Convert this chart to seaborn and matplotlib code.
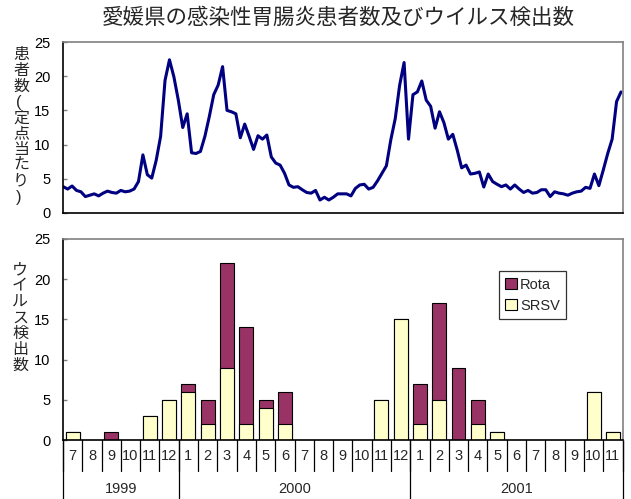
import matplotlib
matplotlib.use("Agg")
import matplotlib.pyplot as plt
import matplotlib.transforms as mtransforms
from matplotlib.patches import Patch
import seaborn as sns
import numpy as np

# ---------------- data ----------------
title = "愛媛県の感染性胃腸炎患者数及びウイルス検出数"
top_ylabel = "患者数(定点当たり)"
bottom_ylabel = "ウイルス検出数"

# weekly patients per sentinel (Jul 1999 - Nov 2001)
patients = [3.85, 3.5, 3.95, 3.3, 3.1, 2.4, 2.6, 2.8, 2.5, 2.9,
            3.2, 3.0, 2.9, 3.3, 3.1, 3.2, 3.5, 4.6, 8.5, 5.6,
            5.1, 7.7, 11.2, 19.4, 22.4, 19.9, 16.5, 12.5, 14.5, 8.8,
            8.7, 9.0, 11.2, 14.1, 17.3, 18.7, 21.4, 15.0, 14.8, 14.5,
            11.0, 13.0, 11.2, 9.3, 11.3, 10.8, 11.4, 8.2, 7.3, 7.0,
            5.8, 4.1, 3.75, 3.85, 3.4, 3.0, 2.9, 3.3, 1.9, 2.3,
            1.9, 2.3, 2.8, 2.8, 2.8, 2.5, 3.6, 4.1, 4.2, 3.5,
            3.75, 4.7, 5.8, 6.9, 10.7, 13.8, 18.7, 22.0, 10.8, 17.3,
            17.7, 19.3, 16.5, 15.6, 12.4, 14.8, 13.2, 10.8, 11.5, 9.2,
            6.6, 7.0, 5.7, 5.8, 6.0, 3.8, 5.7, 4.6, 4.2, 3.85,
            4.1, 3.5, 4.1, 3.5, 3.0, 3.3, 2.9, 3.0, 3.4, 3.4,
            2.4, 3.1, 2.9, 2.8, 2.6, 2.9, 3.1, 3.2, 3.75, 3.6,
            5.7, 4.0, 6.3, 8.7, 10.8, 16.3, 17.7]

months = [7, 8, 9, 10, 11, 12,
          1, 2, 3, 4, 5, 6, 7, 8, 9, 10, 11, 12,
          1, 2, 3, 4, 5, 6, 7, 8, 9, 10, 11]
years = ["1999", "2000", "2001"]
year_month_counts = [6, 12, 11]

srsv = [1, 0, 0, 0, 3, 5,
        6, 2, 9, 2, 4, 2, 0, 0, 0, 0, 5, 15,
        2, 5, 0, 2, 1, 0, 0, 0, 0, 6, 1]
rota = [0, 0, 1, 0, 0, 0,
        1, 3, 13, 12, 1, 4, 0, 0, 0, 0, 0, 0,
        5, 12, 9, 3, 0, 0, 0, 0, 0, 0, 0]
series_names = ["Rota", "SRSV"]

# ---------------- style ----------------
sns.set_style("white")
plt.rcParams["font.family"] = ["Liberation Sans", "Noto Sans CJK JP", "DejaVu Sans"]
jp = ["Noto Sans CJK JP", "DejaVu Sans"]

line_color = "#000080"
rota_color = "#993366"
srsv_color = "#FFFFCC"
W, H = 631, 499

fig = plt.figure(figsize=(W / 100, H / 100), dpi=100)

def ax_rect(l, t, r, b):
    return [l / W, 1 - b / H, (r - l) / W, (b - t) / H]

ax1 = fig.add_axes(ax_rect(63, 42, 623, 213))
ax2 = fig.add_axes(ax_rect(63, 239, 622.5, 440))

# ---------------- top: line ----------------
wk = np.arange(len(patients))
sns.lineplot(x=wk, y=patients, ax=ax1, color=line_color, linewidth=2.2)
ax1.set_xlim(-0.05, len(patients) - 1 + 0.45)
ax1.set_ylim(0, 25)
ax1.set_yticks([0, 5, 10, 15, 20, 25])
ax1.set_xticks([])
ax1.set_xlabel("")
ax1.set_ylabel("")

# ---------------- bottom: stacked bars ----------------
pos = np.arange(len(months))
total = [a + b for a, b in zip(srsv, rota)]
sns.barplot(x=pos, y=total, ax=ax2, color=rota_color, saturation=1,
            width=0.72, edgecolor="black", linewidth=0.8)
sns.barplot(x=pos, y=srsv, ax=ax2, color=srsv_color, saturation=1,
            width=0.72, edgecolor="black", linewidth=0.8)
for p in ax2.patches:
    if p.get_height() == 0:
        p.set_visible(False)
ax2.set_xlim(-0.5, len(months) - 0.5)
ax2.set_ylim(0, 25)
ax2.set_yticks([0, 5, 10, 15, 20, 25])
ax2.set_xticks([])
ax2.set_xlabel("")
ax2.set_ylabel("")

for ax in (ax1, ax2):
    ax.tick_params(axis="y", direction="in", length=3, width=1, color="#808080",
                   labelsize=10.5, pad=9, labelcolor="black", left=True)
    ax.spines["left"].set_color("black")
    ax.spines["bottom"].set_color("black")
    ax.spines["top"].set_color("#808080")
    ax.spines["right"].set_color("#808080")
    for s in ax.spines.values():
        s.set_linewidth(1.2)
        s.set_visible(True)

# month / year category axis below bottom chart
trans = mtransforms.blended_transform_factory(ax2.transData, ax2.transAxes)
ax_h = 201.0
month_row = 31.0 / ax_h
year_row = 60.0 / ax_h
for i, m in enumerate(months):
    ax2.text(i, -16.0 / ax_h, str(m), transform=trans, ha="center", va="center",
             fontsize=10.5)
for k in range(len(months) + 1):
    ax2.plot([k - 0.5, k - 0.5], [0, -month_row], transform=trans, color="black",
             linewidth=0.9, clip_on=False)
start = 0
bounds = [-0.5]
for y, n in zip(years, year_month_counts):
    ax2.text(start + (n - 1) / 2.0, -49.0 / ax_h, y, transform=trans,
             ha="center", va="center", fontsize=10.5)
    start += n
    bounds.append(start - 0.5)
for b in bounds:
    ax2.plot([b, b], [0, -year_row], transform=trans, color="black",
             linewidth=0.9, clip_on=False)

# legend
handles = [Patch(facecolor=rota_color, edgecolor="black", linewidth=0.8),
           Patch(facecolor=srsv_color, edgecolor="black", linewidth=0.8)]
leg = ax2.legend(handles, series_names, loc="upper left",
                 bbox_to_anchor=(0.779, 0.841), borderaxespad=0,
                 fontsize=10.5, frameon=True, fancybox=False,
                 handlelength=0.8, handleheight=0.8, handletextpad=0.2,
                 labelspacing=0.5, borderpad=0.45)
leg.get_frame().set_edgecolor("black")
leg.get_frame().set_linewidth(0.9)

# title
fig.text(338 / W, 1 - 18 / H, title, ha="center", va="center",
         fontsize=15.5, family=jp)

# stacked vertical y-labels
def vlabel(text, xc, ytop, step):
    for i, ch in enumerate(text):
        yc = ytop + step / 2 + i * step
        if ch in "()":
            fig.text((xc - 2) / W, 1 - yc / H, ch, ha="center", va="center",
                     fontsize=12, family=["Liberation Sans"])
        else:
            fig.text(xc / W, 1 - yc / H, ch, ha="center", va="center",
                     fontsize=11.5, family=jp)

vlabel(top_ylabel, 21, 47, 15.8)
vlabel(bottom_ylabel, 20, 262, 15.9)

fig.savefig("out.png", dpi=100)
